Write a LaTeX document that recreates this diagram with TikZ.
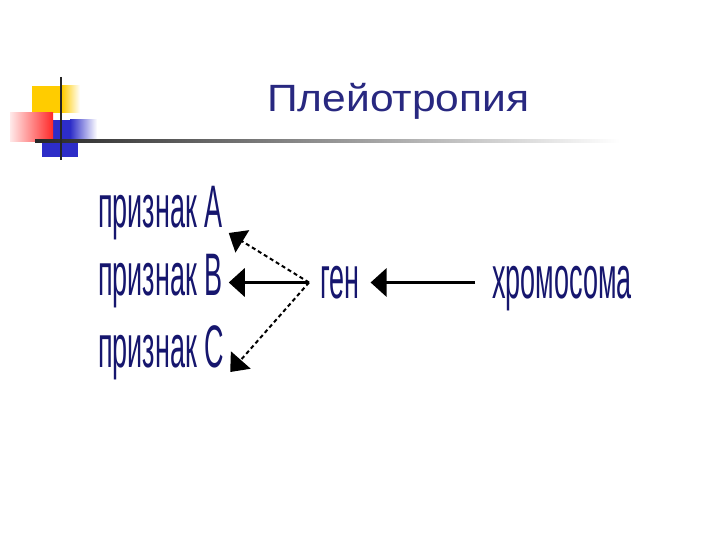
\documentclass[tikz,border=0pt]{standalone}
\usepackage{fontspec}
\setmainfont{Liberation Sans}
\newfontfamily\narrowfont[FakeStretch=0.45]{Liberation Sans}
\newfontfamily\titlefont[FakeStretch=1.12]{Liberation Sans}
\usepackage{xcolor}
\usepackage{tikz}
\usetikzlibrary{positioning,arrows.meta}

\definecolor{titleblue}{RGB}{40,40,128}
\definecolor{labelblue}{RGB}{22,22,110}
\definecolor{decoyellow}{RGB}{255,204,0}
\definecolor{decored}{RGB}{255,40,40}
\definecolor{decoblue}{RGB}{45,45,200}

\begin{document}
\begin{tikzpicture}[x=1pt,y=-1pt,
		lbl/.style={text=labelblue, font=\narrowfont\fontsize{60}{60}\selectfont, inner xsep=6pt, inner ysep=0pt, text height=44pt, text depth=13pt, anchor=base west},
		solidarr/.style={line width=3.5pt, -{Triangle[length=16pt,width=28pt]}},
		dasharr/.style={line width=2pt, dash pattern=on 4pt off 3pt, -{Triangle[length=16pt,width=26pt]}}]
		
		\fill[white] (0,0) rectangle (720,540);
		\useasboundingbox (0,0) rectangle (720,540);
		
		% corner squares
		\fill[decoyellow] (32,86) rectangle (62,113);
		\shade[left color=decoyellow, right color=white] (62,86) rectangle (80,113);
		\fill[decoblue] (42,120) rectangle (78,157);
		\shade[left color=decoblue, right color=white] (70,120) rectangle (97,142);
		\shade[left color=decored!10, right color=decored] (10,113) rectangle (53,142);
		
		\shade[left color=black!85, middle color=black!45, right color=white] (35,139.8) rectangle (620,142.2);
		\draw[line width=2.5pt, black!85] (61,77) -- (61,160);
		
		\node[font=\titlefont\fontsize{38}{40}\selectfont, text=titleblue, anchor=base west, inner sep=0pt] (title) at (267,112) {Плейотропия};
		
		
		\node[lbl] (featA) at (92,227) {признак A};
		\node[lbl] (featB) at (92,295) {признак B};
		\node[lbl] (featC) at (92,367) {признак C};
		
		\node[lbl, inner xsep=11pt] (gen) at (309,298) {ген};
		\node[lbl, inner xsep=17pt] (chrom) at (475,298) {хромосома};
		
		\draw[solidarr] (chrom.west) -- (gen.east);
		\draw[solidarr] (gen.west) -- (gen.west -| featB.east);
		\draw[dasharr] (gen.west) -- ([yshift=-6pt]featA.base east);
		\draw[dasharr] (gen.west) -- ([yshift=-5pt]featC.base east);
	\end{tikzpicture}
\end{document}
